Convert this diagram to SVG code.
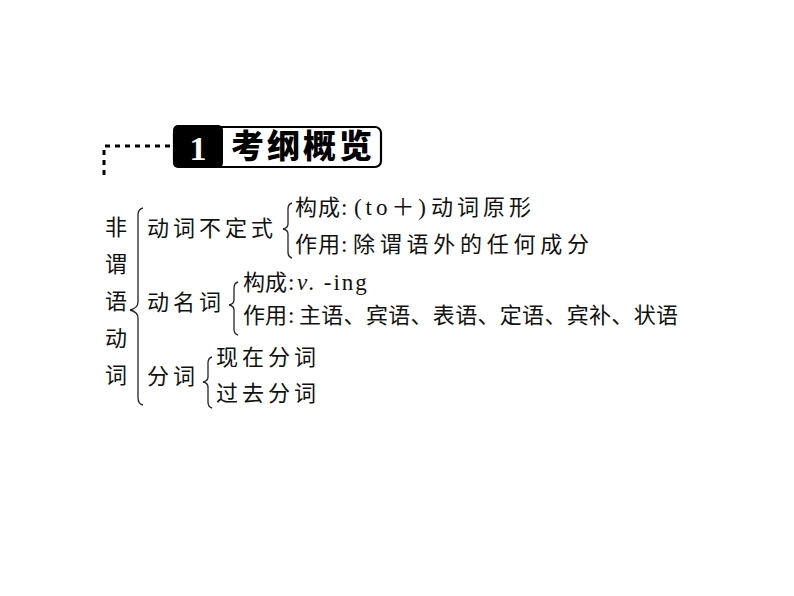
<svg xmlns="http://www.w3.org/2000/svg" width="794" height="596" viewBox="0 0 794 596">
<style>
.c{font-family:"Noto Sans CJK SC","Liberation Serif",serif;font-size:22px;fill:#111}
.s{letter-spacing:4px}
.l{font-family:"Liberation Serif","Noto Sans CJK SC",serif;font-size:23px;fill:#111}
.br{fill:none;stroke:#222;stroke-width:1.3}
.dot{fill:none;stroke:#000;stroke-width:3;stroke-dasharray:5 5}
</style>
<rect width="794" height="596" fill="#fff"/>
<g id="header">
<path class="dot" d="M170 146 H104 V178"/>
<rect x="174" y="127" width="207" height="40" rx="6" fill="#fff" stroke="#000" stroke-width="2.2"/>
<rect x="173" y="125" width="50" height="43" rx="5" fill="#000"/>
<text x="198" y="160" text-anchor="middle" font-family="Liberation Serif,serif" font-weight="bold" font-size="34" fill="#fff">1</text>
<text x="231" y="158" font-family="Noto Sans CJK SC,sans-serif" font-weight="900" font-size="33" textLength="141" lengthAdjust="spacing" fill="#000">考纲概览</text>
</g>
<g id="root">
<text class="c" x="105" y="235">非</text>
<text class="c" x="105" y="272">谓</text>
<text class="c" x="105" y="309">语</text>
<text class="c" x="105" y="346">动</text>
<text class="c" x="105" y="383">词</text>
</g>
<g id="infinitive">
<text class="c s" x="147" y="236">动词不定式</text>
<text y="215"><tspan class="c" x="295" textLength="45" lengthAdjust="spacing">构成</tspan><tspan class="l" x="341">:</tspan><tspan class="l" x="354" textLength="72" lengthAdjust="spacing">(to＋)</tspan><tspan class="c" x="431" textLength="100" lengthAdjust="spacing">动词原形</tspan></text>
<text y="252"><tspan class="c" x="295" textLength="45" lengthAdjust="spacing">作用</tspan><tspan class="l" x="341">:</tspan><tspan class="c" x="353" textLength="236" lengthAdjust="spacing">除谓语外的任何成分</tspan></text>
</g>
<g id="gerund">
<text class="c s" x="147" y="310">动名词</text>
<text y="290"><tspan class="c" x="243" textLength="44" lengthAdjust="spacing">构成</tspan><tspan class="l" x="288">:</tspan><tspan class="l" x="297" font-size="24" font-style="italic" letter-spacing="1">v</tspan><tspan class="l" font-size="24" letter-spacing="2">. -ing</tspan></text>
<text y="323"><tspan class="c" x="243" textLength="44" lengthAdjust="spacing">作用</tspan><tspan class="l" x="288">:</tspan><tspan class="c" x="299" textLength="379" lengthAdjust="spacing">主语、宾语、表语、定语、宾补、状语</tspan></text>
</g>
<g id="participle">
<text class="c s" x="147" y="384">分词</text>
<text class="c s" x="216" y="365">现在分词</text>
<text class="c s" x="216" y="401">过去分词</text>
</g>
<g id="connectors">
<path class="br" d="M143 208 Q138 209 138 215 V302 Q138 308 130 310 Q138 312 138 318 V398 Q138 404 143 405"/>
<path class="br" d="M292 203 Q288 204 288 209 V224 Q288 228 283 229 Q288 230 288 234 V252 Q288 257 292 258"/>
<path class="br" d="M238 282 Q234 283 234 288 V300 Q234 304 229 305 Q234 306 234 310 V329 Q234 334 238 335"/>
<path class="br" d="M212 357 Q208 358 208 363 V377 Q208 381 203 382 Q208 383 208 387 V402 Q208 407 212 408"/>
</g>
</svg>
